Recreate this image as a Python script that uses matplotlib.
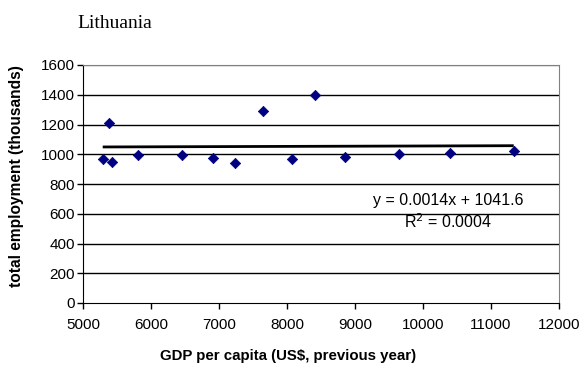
import matplotlib
matplotlib.use("Agg")
import matplotlib.pyplot as plt

# GDP per capita (US$, previous year) and total employment (thousands)
gdp = [5290, 5387, 5422, 5809, 6456, 6907, 7240, 7647, 8073, 8407,
       8853, 9652, 10397, 11334]
employment = [968, 1208, 950, 993, 993, 977, 939, 1291, 968, 1398,
              981, 1000, 1006, 1024]

# linear trend reported on the chart
slope = 0.0014
intercept = 1041.6
r_squared = 0.0004

x_ticks = [5000, 6000, 7000, 8000, 9000, 10000, 11000, 12000]
y_ticks = [0, 200, 400, 600, 800, 1000, 1200, 1400, 1600]

plt.rcParams['font.family'] = ['Liberation Sans', 'DejaVu Sans']

fig = plt.figure(figsize=(5.84, 3.65), dpi=100)
ax = fig.add_axes([83 / 584, 1 - 303 / 365, 476 / 584, 238 / 365])

for y in y_ticks[1:]:
    ax.axhline(y, color='black' if y < 1600 else '#808080', lw=1.0, zorder=1)

ax.scatter(gdp, employment, marker='D', s=28, color='#000080',
           edgecolors='#000080', linewidths=0.5, zorder=3)

x0, x1 = min(gdp), max(gdp)
ax.plot([x0, x1], [slope * x0 + intercept, slope * x1 + intercept],
        color='black', lw=2.0, zorder=2, solid_capstyle='butt')

ax.set_xlim(5000, 12000)
ax.set_ylim(0, 1600)
ax.set_xticks(x_ticks)
ax.set_yticks(y_ticks)
ax.tick_params(direction='out', length=4, width=1, labelsize=11)
ax.tick_params(axis='x', pad=7)
ax.tick_params(axis='y', pad=2)

for side in ('top', 'right'):
    ax.spines[side].set_color('#808080')
for side in ('left', 'bottom'):
    ax.spines[side].set_color('black')

ax.set_xlabel('GDP per capita (US$, previous year)', fontsize=10.8,
              fontweight='bold', va='center')
ax.xaxis.set_label_coords(0.431, -0.222)
ax.set_ylabel('total employment (thousands)', fontsize=11.2,
              fontweight='bold', va='center')
ax.yaxis.set_label_coords(-0.1387, 0.534)

ax.text(10375, 692, f'y = {slope}x + {intercept}', fontsize=11.5,
        ha='center', va='center')
ax.text(10375, 545, f'R$^2$ = {r_squared}', fontsize=11.5,
        ha='center', va='center')

fig.text(77 / 584, 1 - 23 / 365, 'Lithuania', fontsize=14,
         family='Liberation Serif', ha='left', va='center')

fig.savefig('out.png', dpi=100)
